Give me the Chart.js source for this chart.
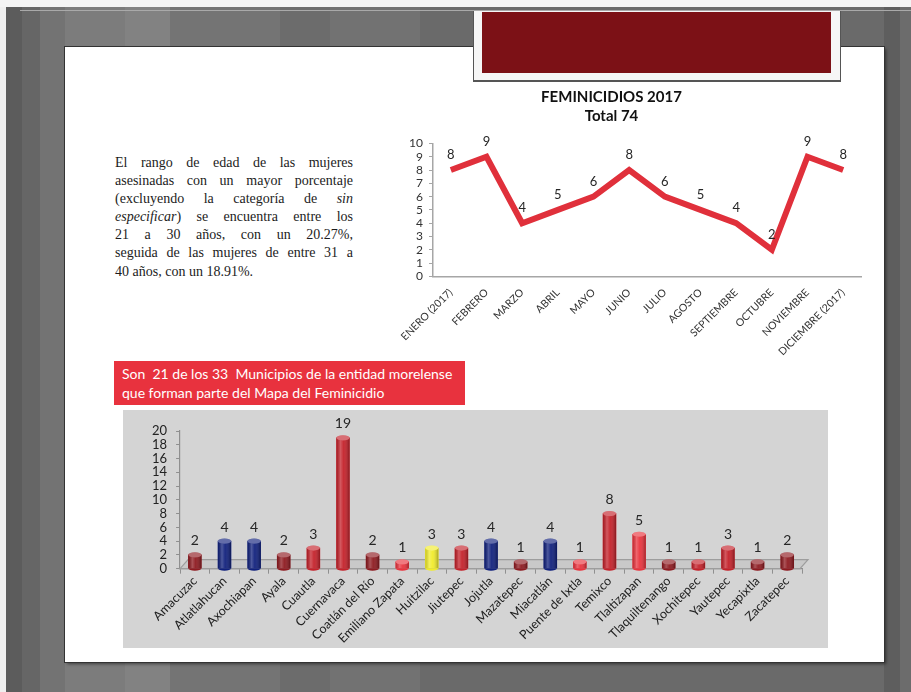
<!DOCTYPE html>
<html>
<head>
<meta charset="utf-8">
<script src="https://cdn.jsdelivr.net/npm/chart.js@4.4.0/dist/chart.umd.min.js"></script>
<style>
    html, body { margin: 0; padding: 0; }
    body {
        width: 911px; height: 692px; position: relative; overflow: hidden;
        font-family: Lato, "Open Sans", sans-serif;
        background: linear-gradient(to right,
            #efefef 0 6px, #5c5c5c 6px 22px, #666 22px 40px, #737373 40px 65px,
            #7c7c7c 65px 125px, #828282 125px 170px, #747474 170px 280px,
            #6c6c6c 280px 330px, #727272 330px 420px, #6a6a6a 420px 884px,
            #5e5e5e 884px 900px, #6c6c6c 900px);
    }
    #franjaSup { position: absolute; left: 0; top: 0; width: 911px; height: 7px; background: #f4f4f4; }
    #lineaSup { position: absolute; left: 20px; top: 10px; width: 891px; height: 1px; background: #a9a9a9; }
    #hoja {
        position: absolute; left: 65px; top: 47px; width: 819px; height: 615px;
        background: #fff; box-shadow: 0 0 0 1px #333, 2px 2px 3px rgba(0,0,0,0.5);
    }
    #marcoTitulo {
        position: absolute; left: 474px; top: 11px; width: 366px; height: 69px;
        background: #f6f6f6; box-shadow: 0 1px 0 1px #555;
    }
    #cajaTitulo { position: absolute; left: 8px; top: 1px; width: 349px; height: 61px; background: #7c1116; }
    #texto {
        position: absolute; left: 115px; top: 154px; width: 238px;
        font-family: "Liberation Serif", "Times New Roman", serif; font-size: 14px;
        line-height: 18.1px; color: #1c1c1c;
    }
    #texto div { text-align: justify; text-align-last: justify; white-space: nowrap; }
    #texto div:last-child { text-align-last: left; }
    #etiquetaRoja {
        position: absolute; left: 114px; top: 361px; width: 351px; height: 44px;
        background: #e8323e; color: #fff; font-size: 14px; line-height: 19px;
        box-sizing: border-box; padding: 3px 0 0 8px;
    }
    #panelBarras { position: absolute; left: 123px; top: 410px; width: 705px; height: 238px; background: #d4d4d4; }
    #barrasWrap { position: absolute; left: -6px; top: 0; width: 711px; height: 238px; }
    #lineaWrap { position: absolute; left: 362px; top: 80px; width: 500px; height: 290px; }
</style>
</head>
<body>
<div id="franjaSup"></div>
<div id="lineaSup"></div>
<div id="hoja"></div>
<div id="marcoTitulo"><div id="cajaTitulo"></div></div>

<div id="texto">
    <div>El rango de edad de las mujeres</div>
    <div>asesinadas con un mayor porcentaje</div>
    <div>(excluyendo la categoría de <i>sin</i></div>
    <div><i>especificar</i>) se encuentra entre los</div>
    <div>21 a 30 años, con un 20.27%,</div>
    <div>seguida de las mujeres de entre 31 a</div>
    <div>40 años, con un 18.91%.</div>
</div>

<div id="lineaWrap"><canvas id="graficoMes" width="500" height="290"></canvas></div>

<div id="etiquetaRoja">Son&nbsp; 21 de los 33&nbsp; Municipios de la entidad morelense<br>que forman parte del Mapa del Feminicidio</div>

<div id="panelBarras"><div id="barrasWrap"><canvas id="graficoMunicipio" width="711" height="238"></canvas></div></div>

<script>
// datos
const meses = ["ENERO (2017)", "FEBRERO", "MARZO", "ABRIL", "MAYO", "JUNIO", "JULIO",
    "AGOSTO", "SEPTIEMBRE", "OCTUBRE", "NOVIEMBRE", "DICIEMBRE (2017)"];
const feminicidiosMes = [8, 9, 4, 5, 6, 8, 6, 5, 4, 2, 9, 8];

const municipios = ["Amacuzac", "Atlatlahucan", "Axochiapan", "Ayala", "Cuautla", "Cuernavaca",
    "Coatlán del Río", "Emiliano Zapata", "Huitzilac", "Jiutepec", "Jojutla", "Mazatepec",
    "Miacatlán", "Puente de Ixtla", "Temixco", "Tlaltizapan", "Tlaquiltenango", "Xochitepec",
    "Yautepec", "Yecapixtla", "Zacatepec"];
const feminicidiosMunicipio = [2, 4, 4, 2, 3, 19, 2, 1, 3, 3, 4, 1, 4, 1, 8, 5, 1, 1, 3, 1, 2];

const tituloMes = ["FEMINICIDIOS 2017", "Total 74"];

// colores de las barras
const OSCURO = "#8e1a20", ROJO = "#c4212a", CLARO = "#e9333d", AZUL = "#10207c", AMARILLO = "#f1ec2c";
const coloresMunicipio = [OSCURO, AZUL, AZUL, OSCURO, ROJO, ROJO, OSCURO, CLARO, AMARILLO, ROJO, AZUL,
    OSCURO, AZUL, CLARO, ROJO, CLARO, OSCURO, ROJO, ROJO, OSCURO, OSCURO];

const fuente = "Lato, 'Open Sans', sans-serif";

// etiquetas de valor encima de cada punto / barra
const etiquetasValor = {
    id: "etiquetasValor",
    afterDatasetsDraw(chart, args, opts) {
        const ctx = chart.ctx;
        const meta = chart.getDatasetMeta(0);
        const datos = chart.data.datasets[0].data;
        ctx.save();
        ctx.font = opts.font;
        ctx.fillStyle = "#262626";
        ctx.textAlign = "center";
        ctx.textBaseline = "middle";
        meta.data.forEach((el, i) => {
            ctx.fillText(datos[i], el.x, el.y - opts.desfase);
        });
        ctx.restore();
    }
};

// piso en perspectiva y brillo de cilindro
const piso3d = {
    id: "piso3d",
    beforeDatasetsDraw(chart) {
        const { ctx, chartArea: a } = chart;
        ctx.save();
        ctx.beginPath();
        ctx.moveTo(a.left, a.bottom);
        ctx.lineTo(a.left + 8, a.bottom - 9);
        ctx.lineTo(a.right + 6, a.bottom - 9);
        ctx.lineTo(a.right - 2, a.bottom);
        ctx.closePath();
        ctx.fillStyle = "#c9c9c9";
        ctx.fill();
        ctx.strokeStyle = "#9d9d9d";
        ctx.lineWidth = 1.2;
        ctx.stroke();
        ctx.restore();
    },
    afterDatasetsDraw(chart) {
        const ctx = chart.ctx;
        const meta = chart.getDatasetMeta(0);
        ctx.save();
        meta.data.forEach((el, i) => {
            const w = el.width, x0 = el.x - w / 2;
            const g = ctx.createLinearGradient(x0, 0, x0 + w, 0);
            g.addColorStop(0, "rgba(0,0,0,0.15)");
            g.addColorStop(0.3, "rgba(255,255,255,0.25)");
            g.addColorStop(0.55, "rgba(255,255,255,0.05)");
            g.addColorStop(1, "rgba(0,0,0,0.3)");
            ctx.fillStyle = g;
            ctx.fillRect(x0, el.y, w, el.base - el.y);
            // tapa superior
            ctx.beginPath();
            ctx.ellipse(el.x, el.y, w / 2, 2.6, 0, 0, Math.PI * 2);
            ctx.fillStyle = coloresMunicipio[i];
            ctx.fill();
            ctx.fillStyle = "rgba(255,255,255,0.35)";
            ctx.fill();
            // base redondeada
            ctx.beginPath();
            ctx.ellipse(el.x, el.base, w / 2, 2.6, 0, 0, Math.PI);
            ctx.fillStyle = coloresMunicipio[i];
            ctx.fill();
        });
        ctx.restore();
    }
};

new Chart(document.getElementById("graficoMes"), {
    type: "line",
    data: {
        labels: meses,
        datasets: [{
            data: feminicidiosMes,
            borderColor: "#e0303b",
            borderWidth: 6,
            pointRadius: 0,
            tension: 0,
            borderJoinStyle: "miter"
        }]
    },
    options: {
        responsive: false,
        animation: false,
        layout: { padding: { top: 0, left: 0, right: 1, bottom: 10 } },
        plugins: {
            legend: { display: false },
            tooltip: { enabled: false },
            title: {
                display: true,
                text: tituloMes,
                color: "#111",
                font: { family: fuente, size: 15, weight: "bold", lineHeight: 1.25 },
                padding: { top: 8, bottom: 18 }
            },
            etiquetasValor: { font: "13px " + fuente, desfase: 15 }
        },
        scales: {
            x: {
                offset: true,
                grid: { display: false, drawOnChartArea: false },
                border: { color: "#a6a6a6", width: 1.5 },
                ticks: {
                    color: "#333",
                    font: { family: fuente, size: 10.5 },
                    minRotation: 45, maxRotation: 45,
                    autoSkip: false, padding: 2
                }
            },
            y: {
                min: 0, max: 10,
                afterFit: scale => { scale.width = 71; },
                grid: { drawOnChartArea: false, tickLength: 4, color: "#a6a6a6" },
                border: { color: "#a6a6a6", width: 1.5 },
                ticks: {
                    stepSize: 1, autoSkip: false, color: "#333",
                    font: { family: fuente, size: 12 }, padding: 6
                }
            }
        }
    },
    plugins: [etiquetasValor]
});

new Chart(document.getElementById("graficoMunicipio"), {
    type: "bar",
    data: {
        labels: municipios,
        datasets: [{
            data: feminicidiosMunicipio,
            backgroundColor: coloresMunicipio,
            barThickness: 13
        }]
    },
    options: {
        responsive: false,
        animation: false,
        layout: { padding: { top: 21, left: 26, right: 26, bottom: 2 } },
        plugins: {
            legend: { display: false },
            tooltip: { enabled: false },
            etiquetasValor: { font: "14px " + fuente, desfase: 14 }
        },
        scales: {
            x: {
                grid: { drawOnChartArea: false, tickLength: 5, color: "#8f8f8f", offset: true },
                border: { color: "#8f8f8f", width: 1.2 },
                ticks: {
                    color: "#222",
                    font: { family: fuente, size: 12.5 },
                    minRotation: 45, maxRotation: 45,
                    autoSkip: false, padding: 0
                }
            },
            y: {
                min: 0, max: 20,
                grid: { drawOnChartArea: false, tickLength: 4, color: "#8f8f8f" },
                border: { color: "#8f8f8f", width: 1.2 },
                ticks: {
                    stepSize: 2, autoSkip: false, color: "#222",
                    font: { family: fuente, size: 13 }, padding: 9
                }
            }
        }
    },
    plugins: [piso3d, etiquetasValor]
});
</script>
</body>
</html>
